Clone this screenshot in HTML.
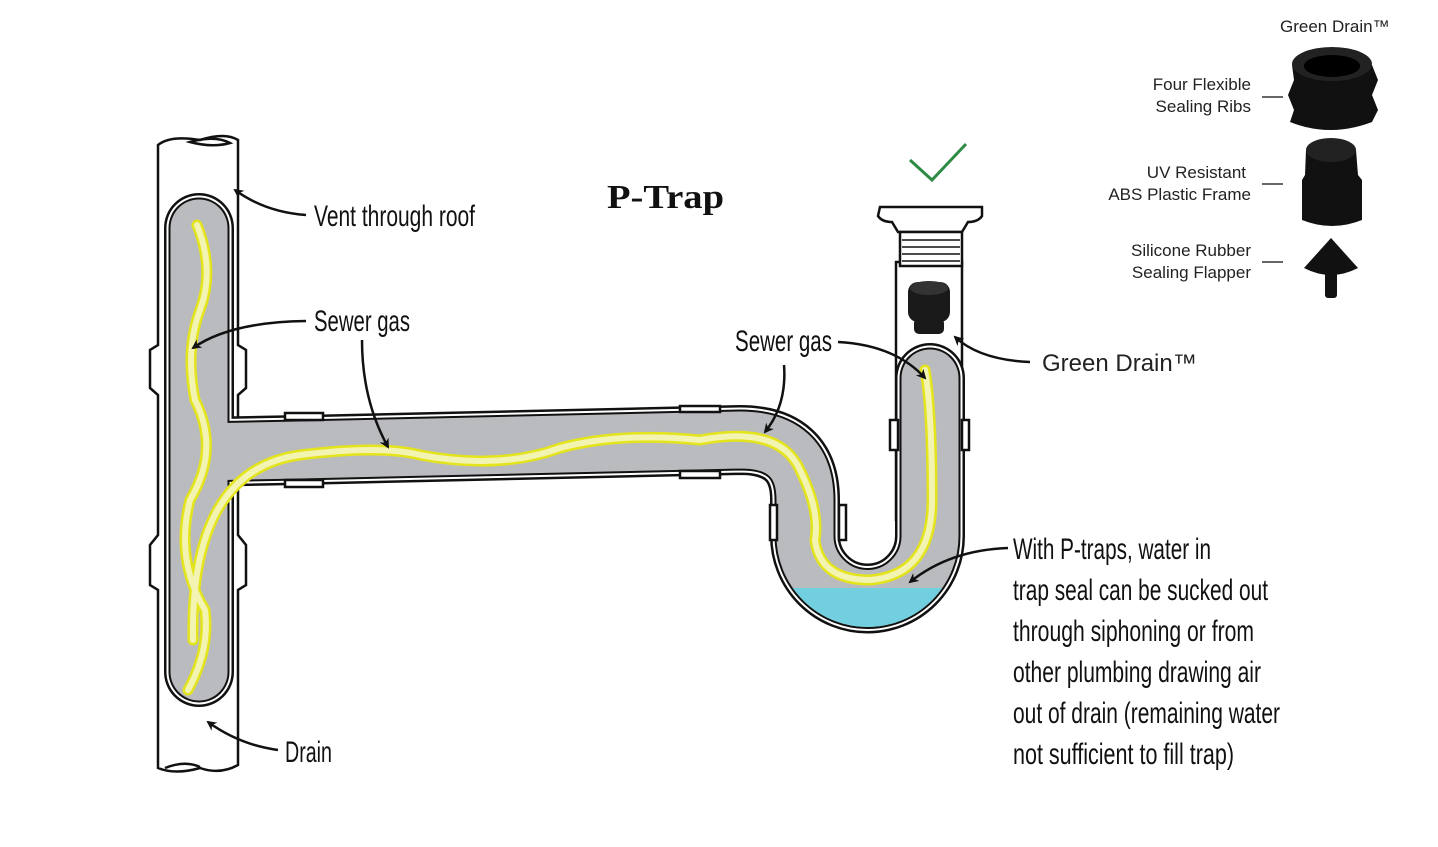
<!DOCTYPE html>
<html><head><meta charset="utf-8"><style>
html,body{margin:0;padding:0;background:#fff;}
svg{display:block;}
.c{font-family:"Liberation Sans Narrow","Liberation Sans",sans-serif;fill:#111;}
.s{font-family:"Liberation Sans",sans-serif;fill:#222;}
</style></head><body>
<svg width="1438" height="847" viewBox="0 0 1438 847" xmlns="http://www.w3.org/2000/svg">
<defs>
<marker id="ah" markerWidth="10" markerHeight="10" refX="8" refY="5" orient="auto" markerUnits="userSpaceOnUse">
<path d="M0,0 L10,5 L0,10 L3,5 Z" fill="#111"/></marker>
</defs>
<rect width="1438" height="847" fill="#fff"/>

<!-- outer vertical pipe -->
<g stroke="#111" stroke-width="2.5" fill="#fff">
<path d="M158,145 Q170,135 200,140 Q225,132 238,140 L238,345 L246,350 L246,388 L238,395 L238,410 L238,480 L238,535 L246,545 L246,585 L238,590 L238,765 Q220,775 200,768 Q175,775 158,768 L158,590 L150,585 L150,545 L158,535 L158,395 L150,388 L150,350 L158,345 Z"/>
<path d="M190,142 Q215,135 230,143 Q212,148 190,142 Z" fill="none"/>
<path d="M165,768 Q185,760 200,767" fill="none"/>
<!-- right outer tube -->
<path d="M896,262 L962,262 L962,520 L896,520 Z"/>
</g>

<!-- pipe layers -->
<g fill="none" stroke-linecap="round" stroke-linejoin="round">
<g id="p">
<path d="M199,228 L199,672"/>
<path d="M199,452 L300,450 L740,440 Q805,440 805,500 L805,536 A62.5,62.5 0 0 0 930,536 L930,378"/>
</g>
</g>
<g fill="none" stroke-linecap="round" stroke-linejoin="round">
<use href="#p" stroke="#111" stroke-width="70"/>
<use href="#p" stroke="#fff" stroke-width="65"/>
<use href="#p" stroke="#111" stroke-width="61"/>
<use href="#p" stroke="#b9bbbe" stroke-width="57"/>
</g>
<!-- water -->
<clipPath id="bowl"><rect x="770" y="588" width="200" height="60"/></clipPath>
<g clip-path="url(#bowl)">
<path d="M805,536 A62.5,62.5 0 0 0 930,536" fill="none" stroke="#72cfe0" stroke-width="57"/>
</g>

<!-- collars on top -->
<g stroke="#111" stroke-width="2.5" fill="#fff">
<path d="M285,413 H323 V420 H285 Z"/>
<path d="M285,480 H323 V487 H285 Z"/>
<path d="M680,406 H720 V412 H680 Z"/>
<path d="M680,471 H720 V478 H680 Z"/>
<path d="M770,505 H777 V540 H770 Z"/>
<path d="M839,505 H846 V540 H839 Z"/>
<path d="M890,420 H898 V450 H890 Z"/>
<path d="M962,420 H969 V450 H962 Z"/>
</g>

<!-- gas stream -->
<g fill="none" stroke-linecap="round" stroke-linejoin="round">
<path id="g1" d="M197,225 Q215,270 200,310 Q185,350 195,400 Q220,450 190,500 Q175,560 205,610 Q210,650 188,690"/>
<path id="g2" d="M193,640 Q190,470 300,455 Q380,445 420,455 Q500,470 560,448 Q620,432 700,440 Q780,425 800,470 Q820,510 815,540 Q820,580 870,580 Q932,575 932,500 Q932,410 925,370"/>
<use href="#g1" stroke="#e4e41c" stroke-width="11"/>
<use href="#g2" stroke="#e4e41c" stroke-width="11"/>
<use href="#g1" stroke="#f3f3b2" stroke-width="6"/>
<use href="#g2" stroke="#f3f3b2" stroke-width="6"/>
</g>

<!-- flange -->
<g stroke="#111" stroke-width="2.5" fill="#fff">
<path d="M880,207 L982,207 L982,216 Q978,222 968,222 L962,232 L898,232 L892,222 Q882,222 878,216 Z"/>
<rect x="900" y="232" width="62" height="34"/>
<path d="M902,240 H960 M902,247 H960 M902,254 H960 M902,261 H960" fill="none" stroke-width="1.5"/>
</g>
<!-- green drain in tube -->
<g fill="#1a1a1a">
<rect x="908" y="282" width="42" height="40" rx="10"/>
<rect x="914" y="318" width="30" height="16" rx="5"/>
<ellipse cx="929" cy="288" rx="19" ry="7" fill="#333"/>
</g>
<!-- check -->
<path d="M910,160 L932,180 L966,144" fill="none" stroke="#2e8b45" stroke-width="3"/>

<!-- title -->
<text x="607" y="208" font-family="'Liberation Serif','DejaVu Serif',serif" font-weight="bold" font-size="34" textLength="117" lengthAdjust="spacingAndGlyphs" fill="#111">P-Trap</text>

<!-- labels -->
<g class="c" font-size="30">
<text x="314" y="226" textLength="161" lengthAdjust="spacingAndGlyphs">Vent through roof</text>
<text x="314" y="331" textLength="96" lengthAdjust="spacingAndGlyphs">Sewer gas</text>
<text x="735" y="351" textLength="97" lengthAdjust="spacingAndGlyphs">Sewer gas</text>
<text x="285" y="762" textLength="47" lengthAdjust="spacingAndGlyphs">Drain</text>
<text x="1013" y="559" textLength="198" lengthAdjust="spacingAndGlyphs">With P-traps, water in</text>
<text x="1013" y="600" textLength="255" lengthAdjust="spacingAndGlyphs">trap seal can be sucked out</text>
<text x="1013" y="641" textLength="241" lengthAdjust="spacingAndGlyphs">through siphoning or from</text>
<text x="1013" y="682" textLength="248" lengthAdjust="spacingAndGlyphs">other plumbing drawing air</text>
<text x="1013" y="723" textLength="267" lengthAdjust="spacingAndGlyphs">out of drain (remaining water</text>
<text x="1013" y="764" textLength="221" lengthAdjust="spacingAndGlyphs">not sufficient to fill trap)</text>
</g>
<text class="s" x="1042" y="371" font-size="24">Green Drain™</text>

<!-- arrows -->
<g fill="none" stroke="#111" stroke-width="2.5" marker-end="url(#ah)">
<path d="M306,215 Q265,212 235,190"/>
<path d="M306,321 Q230,322 193,348"/>
<path d="M362,340 Q362,400 388,447"/>
<path d="M278,750 Q240,745 208,722"/>
<path d="M784,365 Q787,405 765,432"/>
<path d="M838,342 Q895,345 925,378"/>
<path d="M1030,362 Q980,360 955,337"/>
<path d="M1008,548 Q950,550 910,582"/>
</g>

<!-- top right products -->
<g class="s" font-size="17">
<text x="1280" y="32">Green Drain™</text>
<text x="1251" y="90" text-anchor="end">Four Flexible</text>
<text x="1251" y="112" text-anchor="end">Sealing Ribs</text>
<text x="1246" y="178" text-anchor="end">UV Resistant</text>
<text x="1251" y="200" text-anchor="end">ABS Plastic Frame</text>
<text x="1251" y="256" text-anchor="end">Silicone Rubber</text>
<text x="1251" y="278" text-anchor="end">Sealing Flapper</text>
</g>
<g stroke="#333" stroke-width="1.5">
<line x1="1262" y1="97" x2="1283" y2="97"/>
<line x1="1262" y1="184" x2="1283" y2="184"/>
<line x1="1262" y1="262" x2="1283" y2="262"/>
</g>
<g fill="#111">
<path d="M1292,65 L1372,65 L1378,80 L1372,95 L1378,110 L1372,122 Q1330,138 1290,122 L1294,110 L1288,95 L1294,80 Z"/>
<ellipse cx="1332" cy="64" rx="40" ry="17" fill="#222"/>
<ellipse cx="1332" cy="66" rx="28" ry="11" fill="#000"/>
<path d="M1306,150 L1356,150 L1358,175 L1362,180 L1362,220 Q1332,232 1302,220 L1302,180 L1305,175 Z"/>
<ellipse cx="1331" cy="150" rx="25" ry="12" fill="#222"/>
<path d="M1331,238 L1358,268 Q1331,282 1304,268 Z"/>
<rect x="1325" y="270" width="12" height="28" rx="3"/>
</g>
</svg>
</body></html>
